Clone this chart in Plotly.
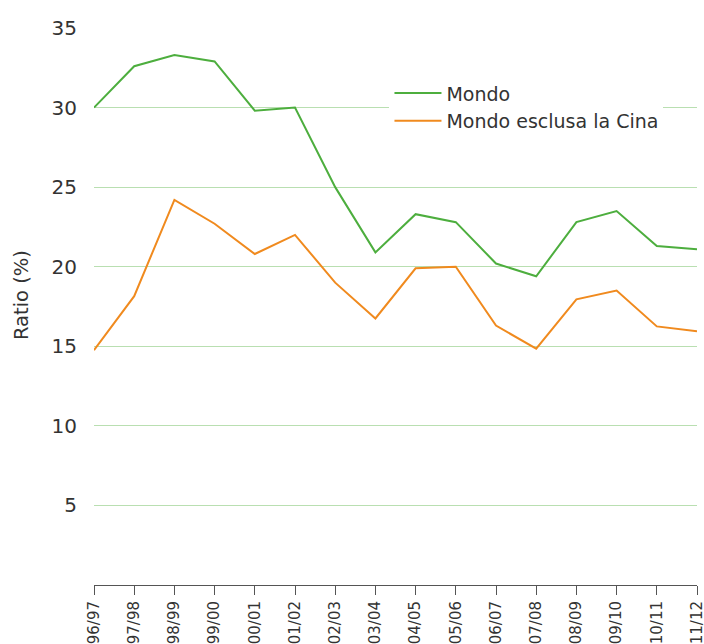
import plotly.graph_objects as go

years = ["96/97", "97/98", "98/99", "99/00", "00/01", "01/02", "02/03", "03/04",
         "04/05", "05/06", "06/07", "07/08", "08/09", "09/10", "10/11", "11/12"]
mondo = [30.0, 32.6, 33.3, 32.9, 29.8, 30.0, 25.0, 20.9,
         23.3, 22.8, 20.2, 19.4, 22.8, 23.5, 21.3, 21.1]
mondo_no_cina = [14.75, 18.15, 24.2, 22.7, 20.8, 22.0, 19.0, 16.75,
                 19.9, 20.0, 16.3, 14.85, 17.95, 18.5, 16.25, 15.95]
y_ticks = [5, 10, 15, 20, 25, 30, 35]

font_family = "DejaVu Sans, Verdana, sans-serif"
text_color = "#333333"

fig = go.Figure()
fig.add_trace(go.Scatter(x=years, y=mondo, mode="lines", name="Mondo",
                         line=dict(color="#4dae3e", width=2)))
fig.add_trace(go.Scatter(x=years, y=mondo_no_cina, mode="lines", name="Mondo esclusa la Cina",
                         line=dict(color="#f08a1e", width=2)))

fig.add_annotation(text="Ratio (%)", textangle=-90, xref="paper", yref="paper",
                   x=-0.119, y=0.521, xanchor="center", yanchor="middle",
                   showarrow=False, font=dict(size=19.5, color=text_color))

fig.update_layout(
    width=704, height=644,
    margin=dict(l=94, r=7, t=28, b=59),
    paper_bgcolor="white", plot_bgcolor="white",
    font=dict(family=font_family, color=text_color),
    showlegend=True,
    legend=dict(x=0.49, y=0.917, xanchor="left", yanchor="top",
                bgcolor="white", font=dict(size=19, color=text_color),
                tracegroupgap=0, itemwidth=47,
                entrywidthmode="pixels", entrywidth=258),
    xaxis=dict(
        type="category", range=[0, len(years) - 1],
        showgrid=False, showline=True, linecolor="#555555", linewidth=1,
        ticks="outside", ticklen=9, tickcolor="#555555", tickwidth=1,
        tickangle=-90, tickfont=dict(size=15, color=text_color),
        automargin=False, zeroline=False,
    ),
    yaxis=dict(
        range=[0, 35], tickvals=y_ticks,
        showgrid=True, gridcolor="#b9dfb1", gridwidth=1,
        showline=False, zeroline=False, ticks="",
        ticklabelstandoff=16,
        tickfont=dict(size=20, color=text_color),
        automargin=False,
    ),
)

fig.write_html(
    "out.html",
    config={"displayModeBar": False},
    post_script="document.body.style.margin='0';document.body.style.overflow='hidden';",
)
